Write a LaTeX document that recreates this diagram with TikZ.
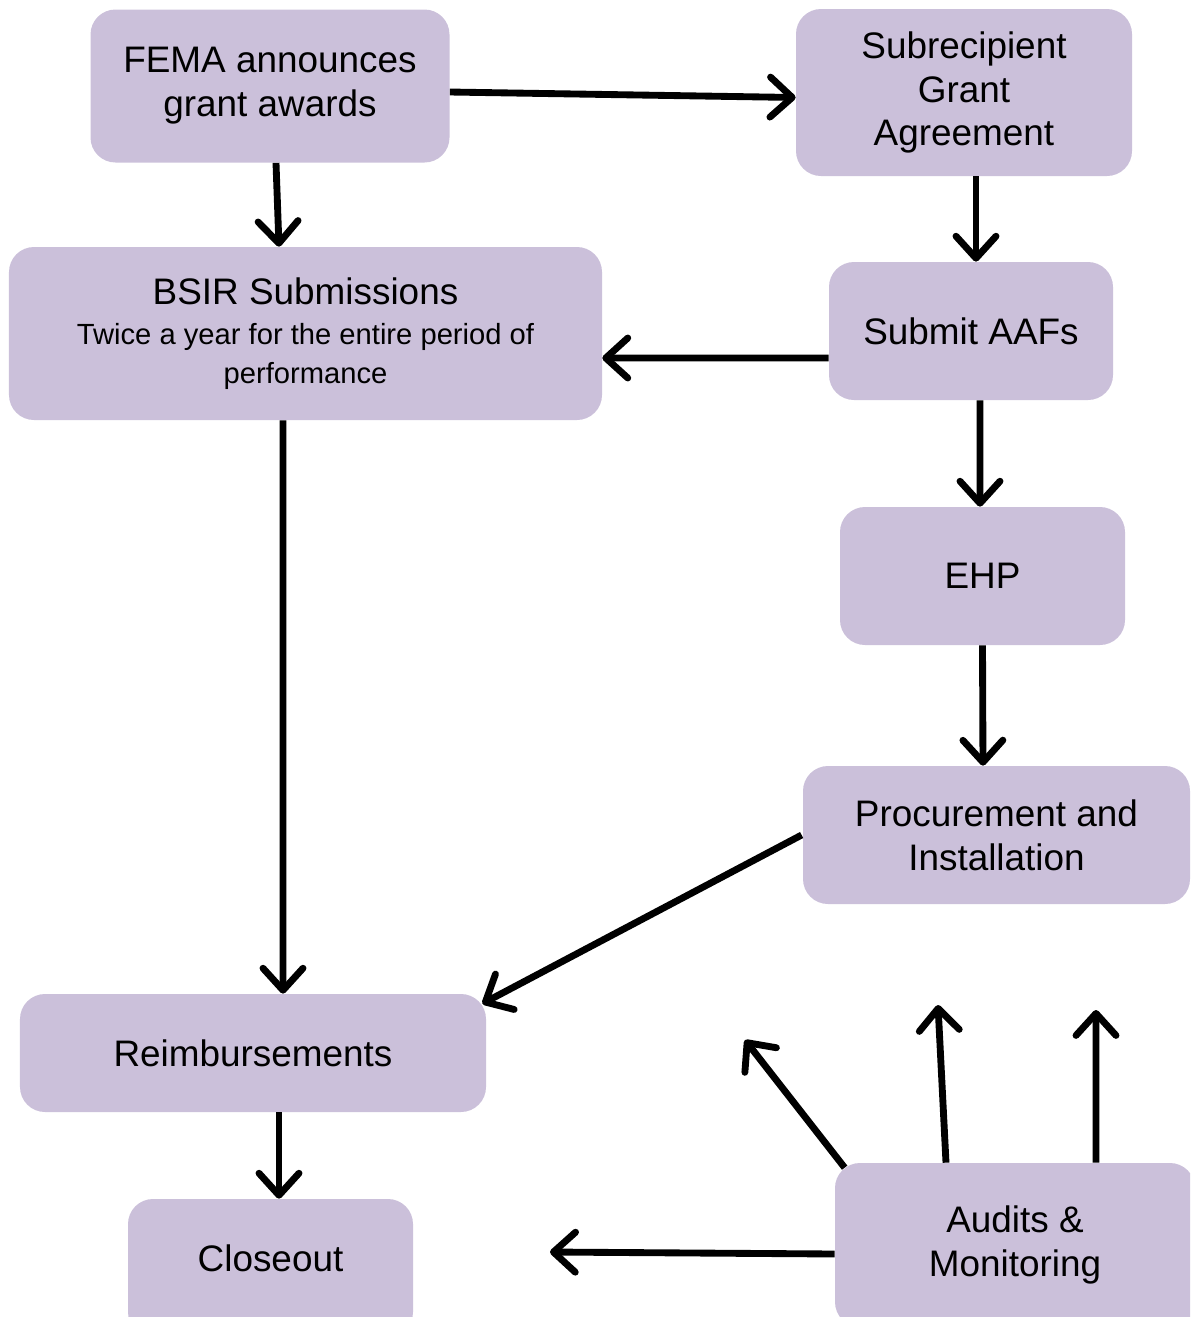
\documentclass[tikz,border=0pt]{standalone}
\usepackage{fontspec}
\setmainfont{Liberation Sans}
\usepackage{tikz}
\usetikzlibrary{arrows.meta}
\definecolor{lavender}{HTML}{CBC0DA}
\tikzset{box/.style={rectangle, rounded corners=0.5cm, fill=lavender, draw=none, align=center,
      inner sep=2pt, font=\fontsize{21}{25}\selectfont}}
\tikzset{flow/.style={line width=3.9pt, -{Straight Barb[length=0.44cm,width=0.8cm,round]}}}

\begin{document}
\begin{tikzpicture}
		\clip (0,0) rectangle (23.8,-26.34);
		\node[box, minimum width=7.18cm, minimum height=3.06cm] (fema) at (5.40,-1.72) {FEMA announces\\grant awards};
		\node[box, minimum width=6.72cm, minimum height=3.34cm] (sub) at (19.28,-1.85) {Subrecipient\\Grant\\Agreement};
		\node[box, minimum width=11.86cm, minimum height=3.46cm] (bsir) at (6.11,-6.67) {BSIR Submissions\\[-2pt]{\fontsize{16.6}{19.3}\selectfont Twice a year for the entire period of}\\[-3pt]{\fontsize{16.6}{19.3}\selectfont performance}};
		\node[box, minimum width=5.68cm, minimum height=2.76cm] (aafs) at (19.42,-6.62) {Submit AAFs};
		\node[box, minimum width=5.70cm, minimum height=2.76cm] (ehp) at (19.65,-11.52) {EHP};
		\node[box, minimum width=7.74cm, minimum height=2.76cm] (proc) at (19.93,-16.70) {Procurement and\\Installation};
		\node[box, minimum width=9.32cm, minimum height=2.36cm] (reimb) at (5.06,-21.06) {Reimbursements};
		\node[box, minimum width=5.70cm, minimum height=2.76cm] (close) at (5.41,-25.36) {};
		\node (closetext) at (5.41,-25.16) {\fontsize{21}{25}\selectfont Closeout};
		\node[box, minimum width=7.20cm, minimum height=3.28cm] (audit) at (20.30,-24.90) {Audits \&\\Monitoring};
		\coordinate (a1) at (14.90,-20.80);
		\coordinate (a2) at (18.76,-20.10);
		\coordinate (a3) at (21.92,-20.20);
		\coordinate (a4) at (11.00,-25.04);
		\draw[flow] ([yshift=-0.12cm]fema.east) -- ([yshift=-0.1cm]sub.west);
		\draw[flow] ([xshift=0.12cm]fema.south) -- ([xshift=-0.53cm]bsir.north);
		\draw[flow] ([xshift=0.24cm]sub.south) -- ([xshift=0.1cm]aafs.north);
		\draw[flow] ([yshift=-0.54cm]aafs.west) -- ([yshift=-0.49cm]bsir.east);
		\draw[flow] ([xshift=0.18cm]aafs.south) -- ([xshift=-0.05cm]ehp.north);
		\draw[flow] (ehp.south) -- ([xshift=-0.27cm]proc.north);
		\draw[flow] ([xshift=-0.45cm]bsir.south) -- ([xshift=0.6cm]reimb.north);
		\draw[flow] ([xshift=-0.02cm]proc.west) -- ([xshift=-0.08cm,yshift=-0.2cm]reimb.north east);
		\draw[flow] ([xshift=0.52cm]reimb.south) -- ([xshift=0.17cm]close.north);
		\draw[flow] ([xshift=0.2cm,yshift=-0.1cm]audit.north west) -- (a1);
		\draw[flow] ([xshift=-1.38cm]audit.north) -- (a2);
		\draw[flow] ([xshift=1.62cm]audit.north) -- (a3);
		\draw[flow] ([yshift=-0.18cm]audit.west) -- (a4);
		\end{tikzpicture}
\end{document}
